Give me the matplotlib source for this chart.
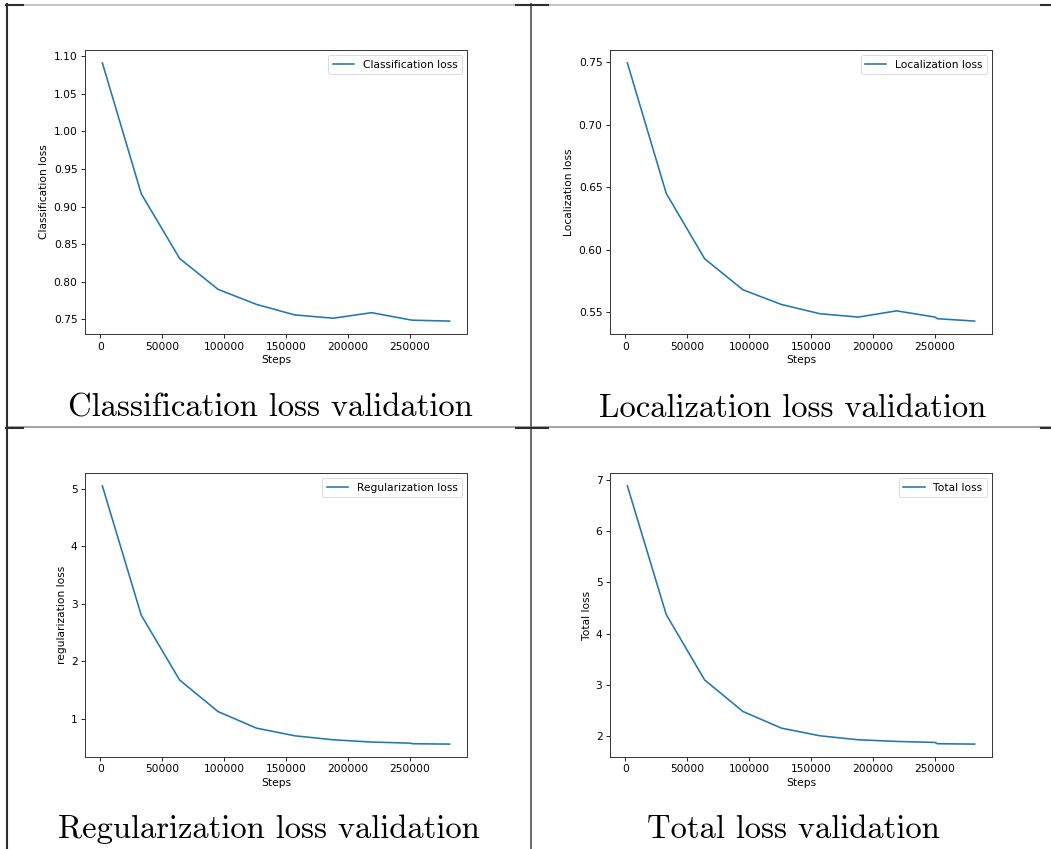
import numpy as np
import matplotlib.pyplot as plt
from matplotlib.lines import Line2D

# Steps at which validation was run
steps = [1600, 33000, 64000, 95000, 126000, 157000, 188000, 219000, 250000, 252000, 282000]

# Validation losses
cls_loss = [1.091, 0.917, 0.831, 0.790, 0.770, 0.756, 0.7516, 0.759, 0.7495, 0.749, 0.7478]
loc_loss = [0.7495, 0.645, 0.5927, 0.5678, 0.5561, 0.5487, 0.546, 0.551, 0.546, 0.5447, 0.5428]
reg_loss = [5.046, 2.80, 1.674, 1.127, 0.839, 0.706, 0.637, 0.597, 0.579, 0.568, 0.562]
tot_loss = [6.88, 4.374, 3.10, 2.485, 2.162, 2.013, 1.935, 1.903, 1.883, 1.858, 1.851]

legend_names = ["Classification loss", "Localization loss", "Regularization loss", "Total loss"]
ylabels = ["Classification loss", "Localization loss", "regularization loss", "Total loss"]
captions = ["Classification loss validation", "Localization loss validation",
            "Regularization loss validation", "Total loss validation"]
series = [cls_loss, loc_loss, reg_loss, tot_loss]

W, H = 1051, 849
fig = plt.figure(figsize=(W / 100, H / 100), dpi=100)

fs = 7.7
# left/top pixel corners of each plot area
corners = [(85, 50), (610, 50), (85, 473), (610, 473)]
aw, ah = 382, 284

for i in range(4):
    x0, y0 = corners[i]
    ax = fig.add_axes([x0 / W, 1 - (y0 + ah) / H, aw / W, ah / H])
    ax.plot(steps, series[i], color="#1f77b4", lw=1.15, label=legend_names[i])
    ax.set_xticks([0, 50000, 100000, 150000, 200000, 250000])
    ax.set_xlabel("Steps", fontsize=fs, labelpad=2.5)
    ax.set_ylabel(ylabels[i], fontsize=fs, labelpad=3)
    ax.tick_params(labelsize=fs, length=2.7, width=0.6, pad=2.7)
    for sp in ax.spines.values():
        sp.set_linewidth(0.7)
        sp.set_color("#333333")
    leg = ax.legend(fontsize=fs, loc="upper right")
    leg.get_frame().set_linewidth(0.6)

# captions under each plot, in a LaTeX-like serif
cap_pos = [(270, 417), (793, 417), (269, 838), (793, 838)]
for (cx, cy), txt in zip(cap_pos, captions):
    fig.text(cx / W, 1 - cy / H, txt, family="cmr10", fontsize=23.5,
             ha="center", va="baseline")


# table rules around the panels
def rule(x1, y1, x2, y2, color, lw):
    fig.add_artist(Line2D([x1 / W, x2 / W], [1 - y1 / H, 1 - y2 / H],
                          transform=fig.transFigure, color=color, lw=lw))


rule(7, 4.5, W, 4.5, "#b5b5b5", 1.1)
rule(7, 427, W, 427, "#8c8c8c", 1.1)
rule(7, 4, 7, H, "#2e2e2e", 1.5)
rule(531, 4, 531, H, "#6e6e6e", 1.5)
for y in [5, 428]:
    rule(6, y, 23, y, "#2e2e2e", 1.5)
    rule(516, y, 548, y, "#2e2e2e", 1.5)
    rule(1041, y, W, y, "#2e2e2e", 1.5)

plt.savefig("out.png", dpi=100)
plt.close()
